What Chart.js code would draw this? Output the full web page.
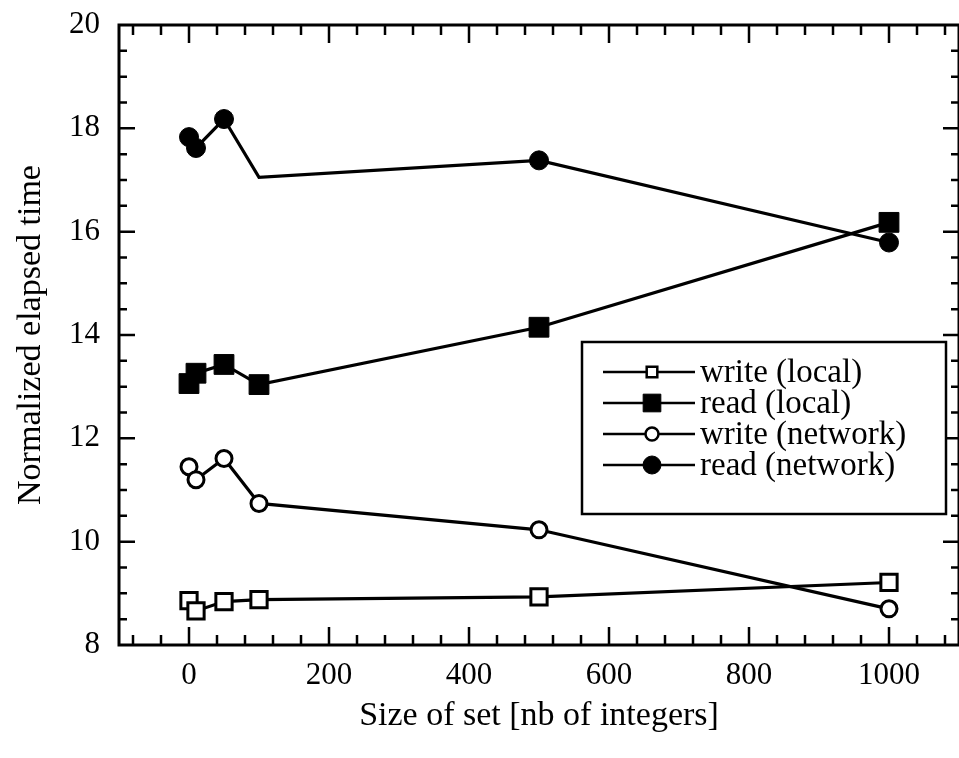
<!DOCTYPE html>
<html>
<head>
<meta charset="utf-8">
<script src="https://cdn.jsdelivr.net/npm/chart.js@4/dist/chart.umd.min.js"></script>
<style>
  html, body { margin: 0; padding: 0; background: #fff; overflow: hidden; }
  #wrap { width: 959px; height: 758px; position: relative; }
  canvas { display: block; }
</style>
</head>
<body>
<div id="wrap"><canvas id="c"></canvas></div>
<script>
// values
const sizes        = [0, 10, 50, 100, 500, 1000];
const writeLocal   = [8.86, 8.66, 8.84, 8.88, 8.93, 9.21];
const readLocal    = [13.06, 13.26, 13.43, 13.04, 14.15, 16.18];
const writeNetwork = [11.45, 11.20, 11.61, 10.74, 10.23, 8.70];
const readNetwork  = [17.83, 17.62, 18.18, 17.05, 17.38, 15.79];
const seriesNames  = ['write (local)', 'read (local)', 'write (network)', 'read (network)'];

const xTickLabels = [0, 200, 400, 600, 800, 1000];
const yTickLabels = [8, 10, 12, 14, 16, 18, 20];

const FONT = "'Liberation Serif', 'Times New Roman', serif";
const pts = ys => sizes.map((s, i) => ({ x: s, y: ys[i] }));

function series(label, ys, style, fill, radius) {
  return {
    label, data: pts(ys),
    borderColor: '#000', borderWidth: 3.2, tension: 0,
    pointStyle: style,
    pointRadius: radius,
    pointBorderWidth: fill ? 1 : 3,
    pointBorderColor: '#000',
    pointBackgroundColor: fill ? '#000' : '#fff',
  };
}

// inward ticks on all four sides plus the box
const frame = {
  id: 'frame',
  afterDatasetsDraw(chart) {
    const { ctx, chartArea: a, scales: { x, y } } = chart;
    ctx.save();
    ctx.strokeStyle = '#000';
    ctx.lineWidth = 3;
    ctx.strokeRect(a.left, a.top, a.right - a.left, a.bottom - a.top);
    ctx.lineWidth = 2.5;
    ctx.beginPath();
    for (let v = Math.ceil(x.min / 40) * 40; v < x.max; v += 40) {
      if (v <= x.min) continue;
      const px = x.getPixelForValue(v), len = v % 200 === 0 ? 18 : 10;
      ctx.moveTo(px, a.bottom); ctx.lineTo(px, a.bottom - len);
      ctx.moveTo(px, a.top); ctx.lineTo(px, a.top + len);
    }
    for (let k = Math.ceil(y.min / 0.5) + 1; k * 0.5 < y.max; k++) {
      const v = k * 0.5, py = y.getPixelForValue(v), len = v % 2 === 0 ? 16 : 8;
      ctx.moveTo(a.left, py); ctx.lineTo(a.left + len, py);
      ctx.moveTo(a.right, py); ctx.lineTo(a.right - len, py);
    }
    ctx.stroke();
    ctx.restore();
  }
};

// boxed legend inside the plot
const legendRadius = [7.5, 12.5, 6.5, 9];
const legendBox = {
  id: 'legendBox',
  afterDraw(chart) {
    const { ctx } = chart;
    const bx = 582, by = 342, bw = 364, bh = 172;
    ctx.save();
    ctx.fillStyle = '#fff';
    ctx.fillRect(bx, by, bw, bh);
    ctx.strokeStyle = '#000';
    ctx.lineWidth = 2.5;
    ctx.strokeRect(bx, by, bw, bh);
    ctx.font = '33px ' + FONT;
    ctx.textBaseline = 'middle';
    chart.data.datasets.forEach((ds, i) => {
      const ry = by + 30 + i * 31;
      ctx.strokeStyle = '#000';
      ctx.lineWidth = 2.5;
      ctx.beginPath(); ctx.moveTo(bx + 21, ry); ctx.lineTo(bx + 113, ry); ctx.stroke();
      ctx.fillStyle = ds.pointBackgroundColor;
      const bw2 = ds.pointBorderWidth === 1 ? 1 : 2.5;
      ctx.lineWidth = bw2;
      Chart.helpers.drawPoint(ctx,
        { pointStyle: ds.pointStyle, rotation: 0, radius: legendRadius[i], borderWidth: bw2 },
        bx + 70, ry);
      ctx.fillStyle = '#000';
      ctx.fillText(ds.label, bx + 118, ry + 1);
    });
    ctx.restore();
  }
};

new Chart(document.getElementById('c'), {
  type: 'line',
  data: {
    datasets: [
      series(seriesNames[0], writeLocal, 'rect', false, 11.5),
      series(seriesNames[1], readLocal, 'rect', true, 14),
      series(seriesNames[2], writeNetwork, 'circle', false, 8),
      Object.assign(series(seriesNames[3], readNetwork, 'circle', true, 9.5),
        { pointRadius: [9.5, 9.5, 9.5, 0, 9.5, 9.5] }),
    ]
  },
  options: {
    responsive: true, maintainAspectRatio: false, animation: false, events: [],
    layout: { autoPadding: false, padding: { top: 25, right: -2, bottom: 0, left: 0 } },
    plugins: { legend: { display: false }, tooltip: { enabled: false } },
    scales: {
      x: {
        type: 'linear', min: -100, max: 1100,
        grid: { display: false, drawTicks: false }, border: { display: false },
        afterBuildTicks: s => { s.ticks = xTickLabels.map(v => ({ value: v })); },
        afterFit: s => { s.height = 113; s.paddingLeft = 0; s.paddingRight = 0; },
        ticks: { color: '#000', padding: 12, callback: v => String(v),
                 font: { family: FONT, size: 31 } },
        title: { display: true, text: 'Size of set [nb of integers]', color: '#000',
                 padding: { top: 0, bottom: 22 }, font: { family: FONT, size: 34 } }
      },
      y: {
        min: 8, max: 20,
        grid: { display: false, drawTicks: false }, border: { display: false },
        afterBuildTicks: s => { s.ticks = yTickLabels.map(v => ({ value: v })); },
        afterFit: s => { s.width = 119; s.paddingTop = 0; s.paddingBottom = 0; },
        ticks: { color: '#000', padding: 19, callback: v => String(v),
                 font: { family: FONT, size: 31 } },
        title: { display: true, text: 'Normalized elapsed time', color: '#000',
                 padding: { top: 11, bottom: 0 }, font: { family: FONT, size: 34 } }
      }
    }
  },
  plugins: [frame, legendBox]
});
</script>
</body>
</html>
